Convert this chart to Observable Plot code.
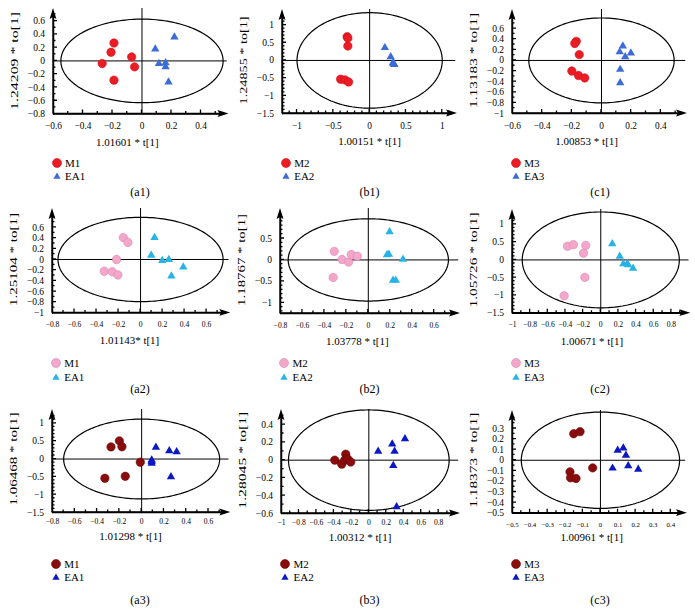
<!DOCTYPE html>
<html><head><meta charset="utf-8">
<script src="https://cdn.jsdelivr.net/npm/d3@7"></script>
<script src="https://cdn.jsdelivr.net/npm/@observablehq/plot@0.6"></script>
<style>
body{margin:0;background:#fff;}
#root{position:relative;width:695px;height:612px;overflow:hidden;font-family:"Liberation Serif","Times New Roman",serif;color:#000;}
#root svg text{font-family:"Liberation Serif","Times New Roman",serif;}
.leg{position:absolute;font-size:11px;line-height:12px;height:12px;white-space:nowrap;}
.legm{position:absolute;}
.cap{position:absolute;font-size:12px;line-height:14px;transform:translate(-50%,-50%);white-space:nowrap;}
.axov{position:absolute;overflow:visible;}
</style></head><body><div id="root"></div>
<script>
// ---------------- data ----------------
const panelIds = ["a1","b1","c1","a2","b2","c2","a3","b3","c3"];
const mNames  = ["M1","M2","M3","M1","M2","M3","M1","M2","M3"];
const eaNames = ["EA1","EA2","EA3","EA1","EA2","EA3","EA1","EA2","EA3"];
const xTitles = ["1.01601 * t[1]","1.00151 * t[1]","1.00853 * t[1]","1.01143* t[1]","1.03778 * t[1]","1.00671 * t[1]","1.01298 * t[1]","1.00312 * t[1]","1.00961 * t[1]"];
const yTitles = ["1.24209 * to[1]","1.24855 * to[1]","1.13183 * to[1]","1.25104 * to[1]","1.18767 * to[1]","1.05726 * to[1]","1.06468 * to[1]","1.28045 * to[1]","1.18373 * to[1]"];

// [t[1], to[1]] scores
const a1_M  = [[-0.19,0.27],[-0.21,0.13],[-0.27,-0.04],[-0.07,0.06],[-0.05,-0.09],[-0.19,-0.29]];
const a1_EA = [[0.22,0.36],[0.09,0.18],[0.115,-0.04],[0.16,-0.03],[0.16,-0.09],[0.18,-0.32]];
const b1_M  = [[-0.31,0.67],[-0.30,0.63],[-0.30,0.41],[-0.40,-0.53],[-0.34,-0.55],[-0.29,-0.61]];
const b1_EA = [[0.21,0.36],[0.29,0.10],[0.32,-0.07],[0.33,-0.09],[0.34,-0.12]];
const c1_M  = [[-0.17,0.36],[-0.18,0.32],[-0.15,0.11],[-0.20,-0.20],[-0.155,-0.285],[-0.113,-0.33]];
const c1_EA = [[0.144,0.27],[0.123,0.16],[0.16,0.066],[0.198,0.14],[0.126,-0.17],[0.126,-0.42]];
const a2_M  = [[-0.157,0.41],[-0.115,0.32],[-0.218,0.0],[-0.33,-0.22],[-0.257,-0.23],[-0.206,-0.29]];
const a2_EA = [[0.127,0.41],[0.097,0.08],[0.197,-0.02],[0.257,0.0],[0.388,-0.14],[0.28,-0.31]];
const b2_M  = [[-0.31,0.20],[-0.24,0.01],[-0.18,-0.05],[-0.155,0.125],[-0.10,0.087],[-0.32,-0.41]];
const b2_EA = [[0.194,0.655],[0.188,0.13],[0.17,0.12],[0.316,0.015],[0.225,-0.475],[0.25,-0.475]];
const c2_M  = [[-0.377,0.385],[-0.31,0.43],[-0.17,0.41],[-0.196,0.19],[-0.18,-0.49],[-0.415,-1.01]];
const c2_EA = [[0.13,0.45],[0.215,0.10],[0.256,-0.11],[0.30,-0.11],[0.31,-0.14],[0.366,-0.235]];
const a3_M  = [[-0.20,0.51],[-0.275,0.34],[-0.177,0.345],[-0.012,-0.09],[-0.33,-0.54],[-0.147,-0.485]];
const a3_EA = [[0.128,0.33],[0.248,0.23],[0.314,0.20],[0.09,-0.03],[0.09,-0.07],[0.09,-0.12],[0.263,-0.50]];
const b3_M  = [[-0.39,0.0],[-0.31,-0.045],[-0.264,0.067],[-0.276,0.0],[-0.24,0.01],[-0.207,-0.02]];
const b3_EA = [[0.107,0.10],[0.268,0.18],[0.414,0.24],[0.295,0.10],[0.28,-0.06],[0.318,-0.525]];
const c3_M  = [[-0.152,0.25],[-0.116,0.27],[-0.173,-0.11],[-0.17,-0.166],[-0.139,-0.172],[-0.044,-0.072]];
const c3_EA = [[0.098,0.094],[0.13,0.115],[0.145,0.047],[0.069,-0.075],[0.158,-0.053],[0.215,-0.085]];
const mData  = [a1_M,b1_M,c1_M,a2_M,b2_M,c2_M,a3_M,b3_M,c3_M];
const eaData = [a1_EA,b1_EA,c1_EA,a2_EA,b2_EA,c2_EA,a3_EA,b3_EA,c3_EA];

// confidence ellipse semi-axes [t, to]
const ellipseRadii = [[0.55,0.63],[1.0,1.35],[0.49,0.8],[0.75,0.79],[0.73,0.96],[0.89,1.35],[0.70,1.12],[0.92,0.565],[0.45,0.455]];

// axis extents [axis origin, arrow tip]
const xDomains = [[-0.6,0.59],[-1.2,1.21],[-0.6,0.58],[-0.8,0.82],[-0.8,0.84],[-1,1.02],[-0.8,0.8],[-1,1.05],[-0.5,0.495]];
const yDomains = [[-0.8,0.79],[-1.5,1.44],[-1,0.96],[-1,0.955],[-1.25,1.2],[-1.5,1.42],[-1.5,1.39],[-0.6,0.57],[-0.5,0.47]];

// tick labels
const xTicks = [
  [-0.6,-0.4,-0.2,0,0.2,0.4],[-1,-0.5,0,0.5,1],[-0.6,-0.4,-0.2,0,0.2,0.4],
  [-0.8,-0.6,-0.4,-0.2,0,0.2,0.4,0.6],[-0.8,-0.6,-0.4,-0.2,0,0.2,0.4,0.6],[-1,-0.8,-0.6,-0.4,-0.2,0,0.2,0.4,0.6,0.8],
  [-0.8,-0.6,-0.4,-0.2,0,0.2,0.4,0.6],[-1,-0.8,-0.6,-0.4,-0.2,0,0.2,0.4,0.6,0.8],[-0.5,-0.4,-0.3,-0.2,-0.1,0,0.1,0.2,0.3,0.4]];
const yTicks = [
  [-0.8,-0.6,-0.4,-0.2,0,0.2,0.4,0.6],[-1.5,-1,-0.5,0,0.5,1],[-1,-0.8,-0.6,-0.4,-0.2,0,0.2,0.4,0.6],
  [-1,-0.8,-0.6,-0.4,-0.2,0,0.2,0.4,0.6],[-1,-0.5,0,0.5],[-1.5,-1,-0.5,0,0.5,1],
  [-1.5,-1,-0.5,0,0.5,1],[-0.6,-0.4,-0.2,0,0.2,0.4],[-0.5,-0.4,-0.3,-0.2,-0.1,0,0.1,0.2,0.3]];
const xMinorStep = [0.1,0.1,0.1,0.1,0.1,0.1,0.1,0.1,0.05];
const yMinorStep = [0.1,0.1,0.1,0.1,0.1,0.1,0.1,0.1,0.05];

// ---------------- layout & style ----------------
const axisPx = [ // [y-axis x, x-arrow tip x, y-arrow tip y, x-axis y] in page pixels
  [52.5,228,8,113.5],[281.7,456.7,9.3,113.3],[511.7,686.7,9.3,113.3],
  [51.7,230,208.3,312.7],[280,460,208.3,313.3],[511.7,690,209,312.7],
  [51.7,230,409.3,512.3],[281,460,409.3,513.3],[511.7,686.7,410,512.7]];
const rowStyle = [
  {mFill:"#ec1c24", mStroke:"#d0101a", eaFill:"#3d6cd6", leg:[163,176,192], xtFont:[9.3,9.3,9.3], xtOff:[12.5,12.5,12.5], xtitleDy:28},
  {mFill:"#f4a7cb", mStroke:"#d985b0", eaFill:"#27b3e6", leg:[362.7,377,389.3], xtFont:[7.6,7.6,7.6], xtOff:[11.6,11.6,11.6], xtitleDy:28},
  {mFill:"#8a0d0d", mStroke:"#6e0606", eaFill:"#0b18c4", leg:[563.7,576.5,600], xtFont:[7.6,7.6,6.8], xtOff:[8.6,8.6,12], xtitleDy:24}];
const capX = [140,369.5,600];
const yTitleLen = [98,88,95,93,92,95,93,97,95];
const fmt = d3.format("");
const root = document.getElementById("root");
const NS = "http://www.w3.org/2000/svg";

function stepRange(a, b, s){ const out=[]; for(let k=Math.ceil(a/s-1e-9); k*s<=b+1e-9; k++) out.push(+(k*s).toFixed(4)); return out; }
function scaleFn(plot, name){
  const s = plot.scale(name);
  if (s && typeof s.apply === "function") return v => s.apply(v);
  return d3.scaleLinear(s.domain, s.range);
}

panelIds.forEach((id, i) => {
  const row = Math.floor(i/3), col = i%3, rs = rowStyle[row];
  const [gx0,gx1,gy0,gy1] = axisPx[i];
  const xd = xDomains[i], yd = yDomains[i];
  const E = 16;                       // frame padding around the drawn axes, px
  const kx = (gx1-gx0)/(xd[1]-xd[0]), ky = (gy1-gy0)/(yd[1]-yd[0]);
  const xDom = [xd[0]-E/kx, xd[1]+E/kx], yDom = [yd[0]-E/ky, yd[1]+E/ky];
  const ML=34, MR=0, MT=0, MB=30;
  const W = gx1-gx0+2*E+ML+MR, H = gy1-gy0+2*E+MT+MB;
  const [rx, ry] = ellipseRadii[i];
  const ell = d3.range(0, 361, 2).map(a => ({x: rx*Math.cos(a*Math.PI/180), y: ry*Math.sin(a*Math.PI/180)}));
  const xMinor = stepRange(xd[0], xd[1]-0.03*(xd[1]-xd[0]), xMinorStep[i]);
  const yMinor = stepRange(yd[0], yd[1]-0.05*(yd[1]-yd[0]), yMinorStep[i]);
  const xt = xTicks[i], yt = yTicks[i];
  const xMid = (xt[0]+xt[xt.length-1])/2;
  const yAxisLine = [{x: xd[0], y: yd[0]}, {x: xd[0], y: yd[1]-6/ky}];
  const xAxisLine = [{x: xd[0], y: yd[0]}, {x: xd[1]-6/kx, y: yd[0]}];
  const svg = Plot.plot({
    width: W, height: H, marginLeft: ML, marginRight: MR, marginTop: MT, marginBottom: MB,
    x: {domain: xDom, axis: null}, y: {domain: yDom, axis: null},
    marks: [
      Plot.line(ell, {x: "x", y: "y", stroke: "#000", strokeWidth: 1.2}),
      Plot.ruleX([0], {y1: yd[0], y2: yd[1], stroke: "#000", strokeWidth: 1}),
      Plot.ruleY([0], {x1: xd[0], x2: xd[1]-0.01*(xd[1]-xd[0]), stroke: "#000", strokeWidth: 1}),
      Plot.line(yAxisLine, {x: "x", y: "y", stroke: "#000", strokeWidth: 1.5}),
      Plot.line(xAxisLine, {x: "x", y: "y", stroke: "#000", strokeWidth: 1.5}),
      Plot.text(xt, {x: d => d, y: () => yd[0], text: d => fmt(d), dy: rs.xtOff[col], fontSize: rs.xtFont[col]}),
      Plot.text(yt, {y: d => d, x: () => xd[0], text: d => fmt(d), dx: -8.4, textAnchor: "end", fontSize: 9.5}),
      Plot.text([{x: xMid, y: yd[0], t: xTitles[i]}], {x: "x", y: "y", text: "t", dy: rs.xtitleDy, fontSize: 11}),
      Plot.text([{x: xd[0], y: 0, t: yTitles[i]}], {x: "x", y: "y", text: "t", dx: -38.5, rotate: -90, fontSize: 10.5}),
      Plot.dot(mData[i], {x: d => d[0], y: d => d[1], r: 4.2, fill: rs.mFill, stroke: rs.mStroke, strokeWidth: 0.6}),
      Plot.dot(eaData[i], {x: d => d[0], y: d => d[1], symbol: "triangle", r: 3.1, fill: rs.eaFill, stroke: "none"})
    ]
  });
  const left = gx0 - E - ML, top = gy0 - E - MT;
  svg.style.position = "absolute";
  svg.style.left = left + "px";
  svg.style.top = top + "px";
  svg.style.background = "transparent";
  svg.style.overflow = "visible";
  svg.querySelectorAll("text").forEach(t => {
    if (t.textContent === yTitles[i]) { t.setAttribute("textLength", yTitleLen[i]); t.setAttribute("lengthAdjust", "spacingAndGlyphs"); }
  });
  root.appendChild(svg);

  // axis lines, inward ticks and arrowheads, positioned with the plot's own scales
  const sx = scaleFn(svg, "x"), sy = scaleFn(svg, "y");
  const ov = document.createElementNS(NS, "svg");
  ov.setAttribute("class", "axov");
  ov.setAttribute("width", W); ov.setAttribute("height", H);
  ov.style.left = left + "px"; ov.style.top = top + "px";
  const X0 = sx(xd[0]), X1 = sx(xd[1]), Y0 = sy(yd[0]), Y1 = sy(yd[1]);
  let d = `M${X0},${Y0}L${X0},${Y1+8}M${X0},${Y0}L${X1-8},${Y0}`;
  xMinor.forEach(t => { d += `M${sx(t)},${Y0}v-2.5`; });
  xt.forEach(t => { d += `M${sx(t)},${Y0}v-4`; });
  yMinor.forEach(t => { d += `M${X0},${sy(t)}h2.5`; });
  yt.forEach(t => { d += `M${X0},${sy(t)}h4`; });
  const p = document.createElementNS(NS, "path");
  p.setAttribute("d", d); p.setAttribute("stroke", "#000"); p.setAttribute("stroke-width", "1.3"); p.setAttribute("fill", "none");
  ov.appendChild(p);
  const a = document.createElementNS(NS, "path");
  a.setAttribute("d", `M${X0},${Y1}L${X0+3.4},${Y1+11}L${X0},${Y1+9}L${X0-3.4},${Y1+11}Z M${X1},${Y0}L${X1-11},${Y0-3.4}L${X1-9},${Y0}L${X1-11},${Y0+3.4}Z`);
  a.setAttribute("fill", "#000");
  ov.appendChild(a);
  root.appendChild(ov);

  // legend and caption (HTML)
  const [ly1, ly2, cy] = rs.leg;
  const mk = (y, html) => { const s = document.createElement("div"); s.className = "legm"; s.style.left = (gx0 - 2) + "px"; s.style.top = (y - 6) + "px"; s.innerHTML = html; root.appendChild(s); };
  mk(ly1, `<svg width="12" height="12" style="display:block"><circle cx="6" cy="6" r="4.5" fill="${rs.mFill}" stroke="${rs.mStroke}" stroke-width="0.6"/></svg>`);
  mk(ly2, `<svg width="12" height="12" style="display:block"><path d="M6,2.6 L9.6,8.8 L2.4,8.8 Z" fill="${rs.eaFill}"/></svg>`);
  const lt = (y, txt) => { const dv = document.createElement("div"); dv.className = "leg"; dv.style.left = (gx0 + 12.5) + "px"; dv.style.top = (y - 6) + "px"; dv.textContent = txt; root.appendChild(dv); };
  lt(ly1, mNames[i]); lt(ly2, eaNames[i]);
  const cp = document.createElement("div"); cp.className = "cap"; cp.style.left = capX[col] + "px"; cp.style.top = cy + "px"; cp.textContent = "(" + id + ")"; root.appendChild(cp);
});
</script></body></html>
